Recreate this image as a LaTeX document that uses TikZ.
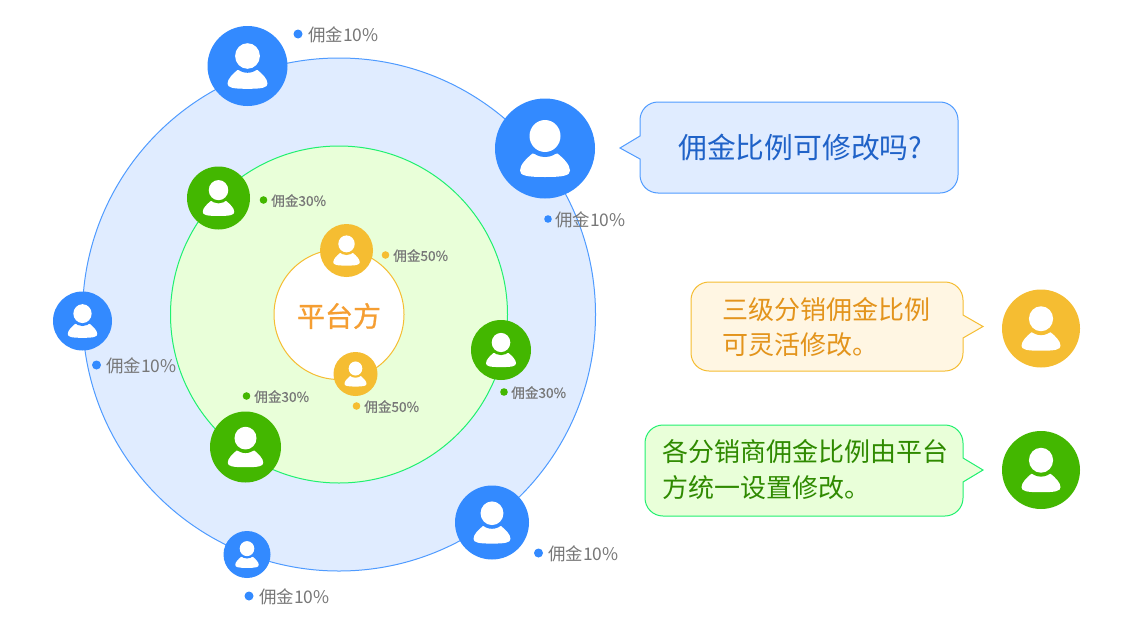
\documentclass[tikz,border=0pt]{standalone}
\usepackage{fontspec}
\setmainfont{Noto Sans CJK SC}
\newfontfamily\strongcjk[FakeBold=0.8]{Noto Sans CJK SC}
\newfontfamily\semicjk[FakeBold=0.4]{Noto Sans CJK SC}
\definecolor{cblue}{HTML}{338AFF}
\definecolor{cgreen}{HTML}{43B700}
\definecolor{cyellow}{HTML}{F5BD32}
\definecolor{lblue}{HTML}{E0ECFF}
\definecolor{lgreen}{HTML}{E9FFD9}
\definecolor{lyellow}{HTML}{FFF6E3}
\definecolor{lineblue}{HTML}{4F9BFF}
\definecolor{linegreen}{HTML}{20F070}
\definecolor{labelgrey}{HTML}{777777}
\definecolor{tblue}{HTML}{1F62C8}
\definecolor{tyellow}{HTML}{E3941C}
\definecolor{tgreen}{HTML}{2F8A00}
\definecolor{torange}{HTML}{F59E32}
\newcommand{\fpx}[1]{\fontsize{\dimexpr #1pt*3/4\relax}{\dimexpr #1pt*27/20\relax}\selectfont}
\newcommand{\usericon}[5]{%
  \node[circle,fill=#5,inner sep=0pt,minimum size=#4*1.5pt] (#1) at (#2,#3) {};
  \begin{scope}[shift={(#2,#3)},x=#4*0.75pt,y=-#4*0.75pt]
    \fill[white] (-0.5,0.44) .. controls (-0.5,0.32) and (-0.36,0.19) .. (-0.25,0.1)
      -- (0.25,0.1) .. controls (0.36,0.19) and (0.5,0.32) .. (0.5,0.44)
      .. controls (0.5,0.54) and (0.38,0.57) .. (0,0.57)
      .. controls (-0.38,0.57) and (-0.5,0.54) .. (-0.5,0.44) -- cycle;
    \fill[#5] (0,-0.25) ellipse (0.4 and 0.42);
    \fill[white] (0,-0.25) ellipse (0.31 and 0.32);
  \end{scope}}
\tikzset{
  labeltext/.style={anchor=west,inner sep=0pt,text=labelgrey,yshift=-0.5pt},
  zone/.style={circle,inner sep=0pt,line width=0.75pt},
  bubble/.style={line width=0.75pt},
  bubbletext/.style={anchor=west,inner sep=0pt,align=left},
}
\newcommand{\commission}[9]{% name, dot x, y, dot r, colour, text x, size, percent, weight
  \node[circle,fill=#5,inner sep=0pt,minimum size=#4*1.5pt] (#1d) at (#2,#3) {};
  \node[labeltext,font=#9\fpx{#7}] (#1t) at (#6,#3) {佣金#8\%};}
\begin{document}
\begin{tikzpicture}[x=0.75pt,y=-0.75pt]
\useasboundingbox (0,0) rectangle (1130,621);
\node[zone,draw=lineblue,fill=lblue,minimum size=513*0.75pt] (outer) at (339,314.5) {};
\node[zone,draw=linegreen,fill=lgreen,minimum size=337*0.75pt] (middle) at (339,314.5) {};
\node[zone,draw=cyellow,fill=white,minimum size=130*0.75pt] (inner) at (339,314.5) {};
\node[text=torange,font=\strongcjk\fpx{28}] (platform) at (339,316) {平台方};
\usericon{b1}{247.5}{66}{40}{cblue}
\usericon{b2}{545}{148.5}{50}{cblue}
\usericon{b3}{82.5}{321}{29.5}{cblue}
\usericon{b4}{492}{522.5}{37}{cblue}
\usericon{b5}{247}{554.5}{23.5}{cblue}
\usericon{g1}{218.5}{198}{31.5}{cgreen}
\usericon{g2}{501}{350}{30}{cgreen}
\usericon{g3}{245.5}{447}{35.5}{cgreen}
\usericon{y1}{346.5}{250.5}{26.5}{cyellow}
\usericon{y2}{355.5}{374}{22}{cyellow}
\usericon{y3}{1041}{328.5}{39}{cyellow}
\usericon{g4}{1041}{470}{39}{cgreen}
\commission{t1}{298}{34}{4.5}{cblue}{308}{17.4}{10}{\rmfamily}
\commission{t2}{548}{219}{3.8}{cblue}{555}{17.4}{10}{\rmfamily}
\commission{t3}{96.5}{365}{4.5}{cblue}{106}{17.4}{10}{\rmfamily}
\commission{t4}{538.5}{553}{4.5}{cblue}{548}{17.4}{10}{\rmfamily}
\commission{t5}{249}{596}{4.5}{cblue}{259}{17.4}{10}{\rmfamily}
\commission{t6}{263.5}{200}{3.8}{cgreen}{271}{13.6}{30}{\semicjk}
\commission{t7}{504}{392}{3.8}{cgreen}{511}{13.6}{30}{\semicjk}
\commission{t8}{246.5}{396}{3.8}{cgreen}{254}{13.6}{30}{\semicjk}
\commission{t9}{385.5}{255}{3.8}{cyellow}{393}{13.6}{50}{\semicjk}
\commission{t10}{356.5}{406}{3.8}{cyellow}{364}{13.6}{50}{\semicjk}
\draw[bubble,draw=lineblue,fill=lblue]
  (620,148) -- (640,136) -- (640,120) arc[start angle=180,end angle=270,radius=18]
  -- (940,102) arc[start angle=270,end angle=360,radius=18]
  -- (958,175) arc[start angle=0,end angle=90,radius=18]
  -- (658,193) arc[start angle=90,end angle=180,radius=18]
  -- (640,159) -- cycle;
\draw[bubble,draw=cyellow,fill=lyellow]
  (983,326.5) -- (963,338) -- (963,353) arc[start angle=0,end angle=90,radius=18]
  -- (709,371) arc[start angle=90,end angle=180,radius=18]
  -- (691,300) arc[start angle=180,end angle=270,radius=18]
  -- (945,282) arc[start angle=270,end angle=360,radius=18]
  -- (963,315) -- cycle;
\draw[bubble,draw=linegreen,fill=lgreen]
  (983,470) -- (963,482) -- (963,498) arc[start angle=0,end angle=90,radius=18]
  -- (663,516) arc[start angle=90,end angle=180,radius=18]
  -- (645,443) arc[start angle=180,end angle=270,radius=18]
  -- (945,425) arc[start angle=270,end angle=360,radius=18]
  -- (963,458) -- cycle;
\node[bubbletext,text=tblue,font=\fpx{28.8}] (q) at (678,147) {佣金比例可修改吗?};
\node[bubbletext,text=tyellow,font=\fontsize{19.5}{26.25}\selectfont] (ya) at (722,327) {三级分销佣金比例\\可灵活修改。};
\node[bubbletext,text=tgreen,font=\fontsize{19.5}{27}\selectfont] (ga) at (662,470) {各分销商佣金比例由平台\\方统一设置修改。};
\end{tikzpicture}
\end{document}
